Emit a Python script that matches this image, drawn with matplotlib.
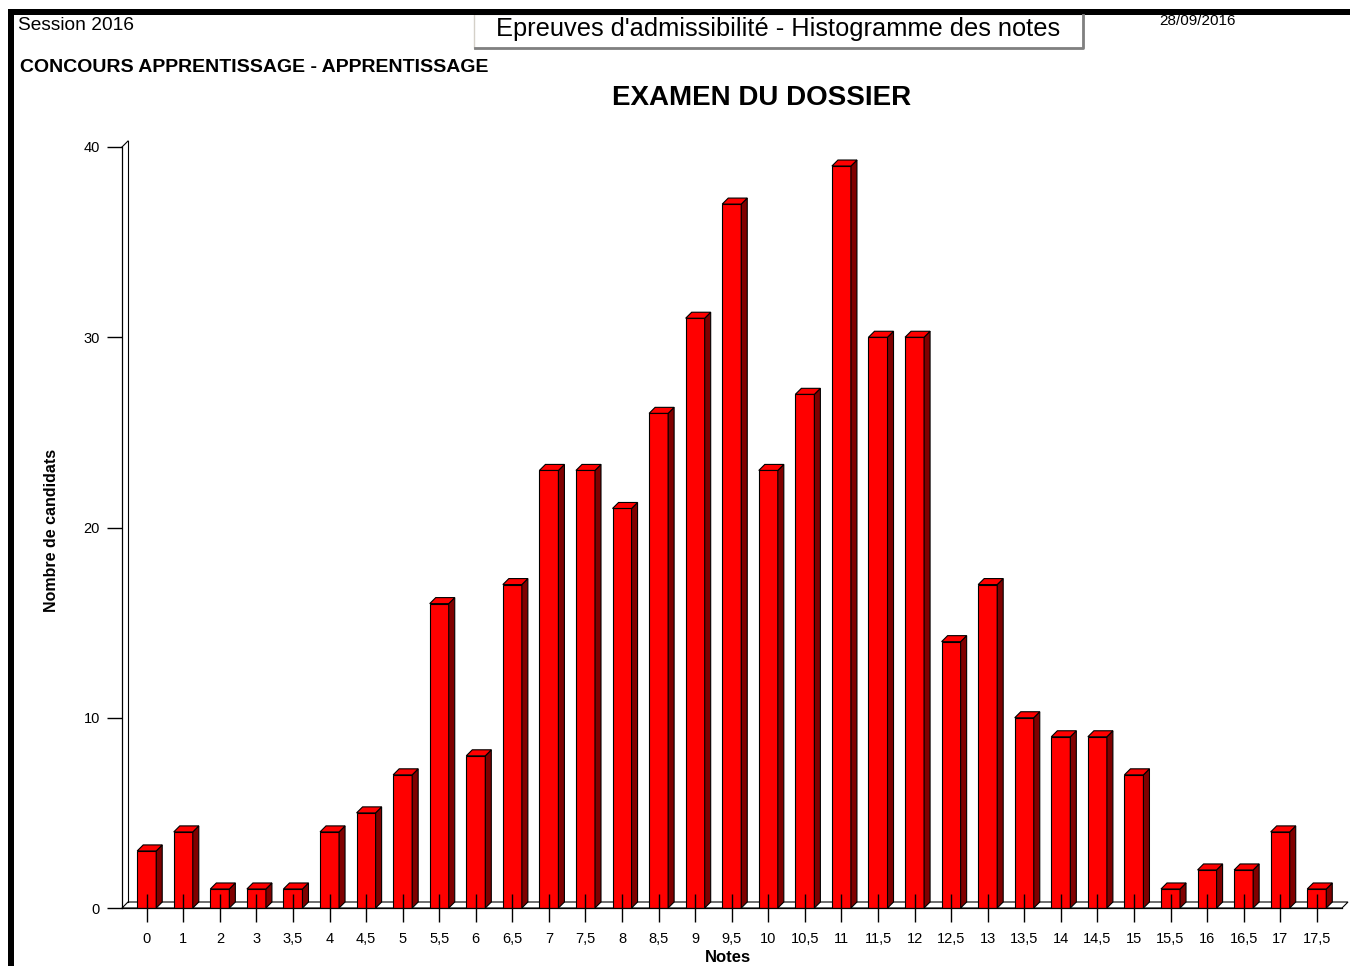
import numpy as np
import matplotlib
matplotlib.use('Agg')
import matplotlib.pyplot as plt
from matplotlib.patches import Rectangle, Polygon
from matplotlib.lines import Line2D

plt.rcParams['font.family'] = ['Liberation Sans', 'DejaVu Sans']

# data
notes = ['0', '1', '2', '3', '3,5', '4', '4,5', '5', '5,5', '6', '6,5', '7', '7,5',
         '8', '8,5', '9', '9,5', '10', '10,5', '11', '11,5', '12', '12,5', '13',
         '13,5', '14', '14,5', '15', '15,5', '16', '16,5', '17', '17,5']
counts = [3, 4, 1, 1, 1, 4, 5, 7, 16, 8, 17, 23, 23, 21, 26, 31, 37, 23, 27, 39,
          30, 30, 14, 17, 10, 9, 9, 7, 1, 2, 2, 4, 1]
yticks = [0, 10, 20, 30, 40]

W, H = 1350, 966
fig = plt.figure(figsize=(W/100, H/100), dpi=100)

def fx(px):
    return px / W

def fy(py):
    return 1 - py / H

# axes placed so the front of the floor / wall match the reference
ax = fig.add_axes([fx(122), fy(908), fx(1342) - fx(122), fy(147) - fy(908)])
xlo, xhi = -0.676, 32.69
ax.set_xlim(xlo, xhi)
ax.set_ylim(0, 40)

# depth of the pseudo-3D effect (pixels -> data units)
depth_px = 6
dx = depth_px * (xhi - xlo) / 1220
dy = depth_px * 40 / 761
bw = 0.52

x = np.arange(len(notes))

# floor and back wall
floor = Polygon([(xlo, 0), (xhi, 0), (xhi + dx, dy), (xlo + dx, dy)],
                closed=True, facecolor='white', edgecolor='black', lw=0.8,
                clip_on=False, zorder=0.5)
ax.add_patch(floor)
ax.add_line(Line2D([xlo + dx, xlo + dx], [dy, 40 + dy], color='black', lw=0.8,
                   clip_on=False))
ax.add_line(Line2D([xlo, xlo + dx], [40, 40 + dy], color='black', lw=0.8,
                   clip_on=False))

# bars: front, side, top
for xi, c in zip(x, counts):
    l, r = xi - bw/2, xi + bw/2
    ax.add_patch(Rectangle((l, 0), bw, c, facecolor='#ff0000', edgecolor='black',
                           lw=0.8, zorder=1))
    ax.add_patch(Polygon([(r, 0), (r, c), (r + dx, c + dy), (r + dx, dy)],
                         closed=True, facecolor='#800000', edgecolor='black',
                         lw=0.8, zorder=1, clip_on=False))
    ax.add_patch(Polygon([(l, c), (l + dx, c + dy), (r + dx, c + dy), (r, c)],
                         closed=True, facecolor='#ff0000', edgecolor='black',
                         lw=0.8, zorder=1, clip_on=False))

for s in ['top', 'right']:
    ax.spines[s].set_visible(False)
for s in ['left', 'bottom']:
    ax.spines[s].set_linewidth(0.9)

ax.set_xticks(x)
ax.set_xticklabels(notes, fontsize=10.5)
ax.tick_params(axis='x', direction='inout', length=20, width=1, pad=7)
ax.set_yticks(yticks)
ax.set_yticklabels([str(t) for t in yticks], fontsize=10.5)
ax.tick_params(axis='y', direction='out', length=11, width=1, pad=5)

fig.text(fx(728), fy(958), 'Notes', ha='center', va='center',
         fontsize=12, fontweight='bold')
fig.text(fx(52), fy(530), 'Nombre de candidats', ha='center', va='center',
         rotation=90, fontsize=11.5, fontweight='bold')
fig.text(fx(762), fy(98), 'EXAMEN DU DOSSIER', ha='center', va='center',
         fontsize=20, fontweight='bold')

# header
fig.text(fx(18), fy(26), 'Session 2016', ha='left', va='center', fontsize=13.8)
fig.text(fx(20), fy(68), 'CONCOURS APPRENTISSAGE - APPRENTISSAGE', ha='left',
         va='center', fontsize=14, fontweight='bold')
fig.text(fx(1197), fy(21), '28/09/2016', ha='center', va='center', fontsize=11)

fig.patches.append(Rectangle((fx(474), fy(48)), fx(1083) - fx(474), fy(14) - fy(48),
                             transform=fig.transFigure, facecolor='white',
                             edgecolor='#d4d0c8', lw=1))
fig.lines.append(Line2D([fx(475), fx(1083), fx(1083)], [fy(48), fy(48), fy(15)],
                        transform=fig.transFigure, color='#808080', lw=2))
fig.text(fx(778), fy(29), "Epreuves d'admissibilité - Histogramme des notes",
         ha='center', va='center', fontsize=18.3)

# black frame
fig.patches.append(Rectangle((fx(8), 0), fx(14) - fx(8), fy(9), transform=fig.transFigure,
                             facecolor='black', edgecolor='none'))
fig.patches.append(Rectangle((fx(8), fy(15)), 1 - fx(8), fy(9) - fy(15),
                             transform=fig.transFigure, facecolor='black',
                             edgecolor='none'))

fig.savefig('out.png', dpi=100)
